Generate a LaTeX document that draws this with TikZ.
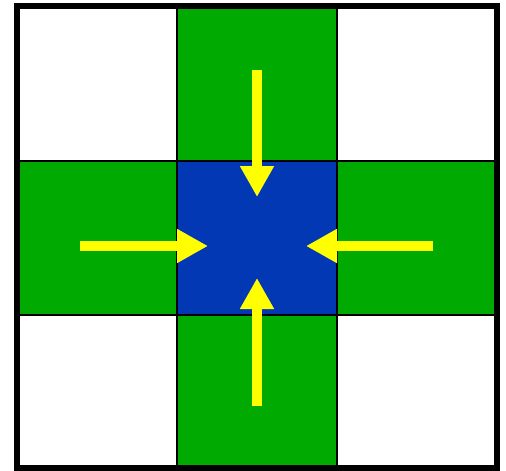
\documentclass[tikz,border=0pt]{standalone}
\usetikzlibrary{arrows.meta}
\definecolor{cellgreen}{RGB}{0,170,0}
\definecolor{cellblue}{RGB}{3,56,180}
\definecolor{arrowyellow}{RGB}{255,255,0}
\tikzset{
  greencell/.style={fill=cellgreen},
  bluecell/.style={fill=cellblue},
  gridline/.style={draw=black,line width=2pt},
  outerline/.style={draw=black,line width=6pt},
  yarrow/.style={draw=arrowyellow,line width=10pt,-{Triangle[length=31pt,width=32pt,fill=arrowyellow]}}
}
\begin{document}
\begin{tikzpicture}[x=1pt,y=-1pt]
\useasboundingbox (0,0) rectangle (506,471);
\fill[white] (0,0) rectangle (506,471);
% cells
\path[greencell] (177,6) rectangle (337,161);
\path[greencell] (17,161) rectangle (177,315);
\path[greencell] (337,161) rectangle (497,315);
\path[greencell] (177,315) rectangle (337,468);
\path[bluecell] (177,161) rectangle (337,315);
% grid
\draw[gridline] (177,6) -- (177,468);
\draw[gridline] (337,6) -- (337,468);
\draw[gridline] (17,161) -- (497,161);
\draw[gridline] (17,315) -- (497,315);
\draw[outerline] (17,6) rectangle (497,468);
% arrows
\coordinate (ts) at (257,70); \coordinate (tt) at (257,197);
\coordinate (bs) at (257,406); \coordinate (bt) at (257,278);
\coordinate (ls) at (80,246); \coordinate (lt) at (208,246);
\coordinate (rs) at (433,246); \coordinate (rt) at (306,246);
\draw[yarrow] (ts) -- (tt);
\draw[yarrow] (bs) -- (bt);
\draw[yarrow] (ls) -- (lt);
\draw[yarrow] (rs) -- (rt);
\end{tikzpicture}
\end{document}
